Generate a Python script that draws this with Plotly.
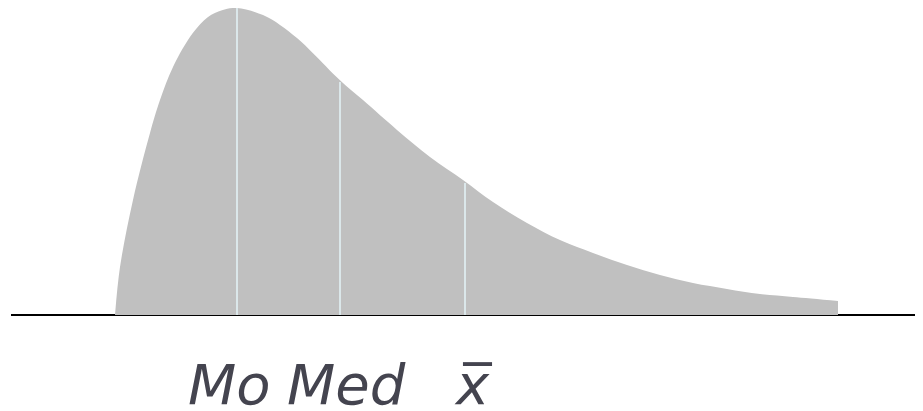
import plotly.graph_objects as go

# Density curve (x in arbitrary units, y scaled so peak = 100)
curve_x = [0, 0.5, 1.8, 3.5, 4.5, 5.8, 7.8, 9.3, 10.7, 12.2, 14.8, 16.5, 18.2, 19.8,
           22.5, 24.8, 28.2, 31.5, 34.8, 37.8, 41.2, 44.5, 47.8, 51.2, 54.5, 57.8,
           61.2, 64.5, 67.8, 72.3]
curve_y = [0, 15.6, 37.5, 59.3, 70.0, 80.8, 91.9, 97.1, 99.3, 100, 97.7, 94.5, 90.2, 85.3,
           76.5, 70.0, 60.3, 51.5, 44.0, 36.8, 30.0, 24.4, 20.2, 16.3, 13.0, 10.4,
           8.5, 6.8, 5.9, 4.6]

# Mode, median and mean markers
stat_names = ["Mo", "Med", "x\u0305"]
stat_x = [12.2, 22.5, 35.0]
stat_top = [100.6, 75.9, 43.0]

fig = go.Figure()
fig.add_trace(go.Scatter(
    x=curve_x, y=curve_y, mode="lines", line=dict(width=0, shape="spline", smoothing=1.0),
    fill="tozeroy", fillcolor="#c0c0c0", hoverinfo="skip", showlegend=False))

for sx, st in zip(stat_x, stat_top):
    fig.add_trace(go.Scatter(
        x=[sx, sx], y=[0, st], mode="lines", line=dict(color="#dbe7ea", width=2),
        hoverinfo="skip", showlegend=False, cliponaxis=False))

label_shift = [-8, 6, 8]
for name, sx, sh in zip(stat_names, stat_x, label_shift):
    fig.add_annotation(
        x=sx, y=-0.02, xref="x", yref="paper", text="<i>" + name + "</i>", showarrow=False,
        xanchor="center", yanchor="bottom", xshift=sh,
        font=dict(family="DejaVu Sans", size=56, color="#44444f"))

# The page body adds an 8px offset, so the figure is 8px smaller than the window
fig.update_layout(
    width=915, height=403, margin=dict(l=3, r=0, t=0, b=0),
    paper_bgcolor="white", plot_bgcolor="white",
    xaxis=dict(range=[-10.4, 80.8], showgrid=False, showticklabels=False,
               ticks="", zeroline=False, showline=False, fixedrange=True),
    yaxis=dict(range=[-31.27, 100.0], showgrid=False, showticklabels=False, ticks="",
               zeroline=True, zerolinecolor="black", zerolinewidth=2, showline=False,
               fixedrange=True),
)

fig.write_html("out.html")
